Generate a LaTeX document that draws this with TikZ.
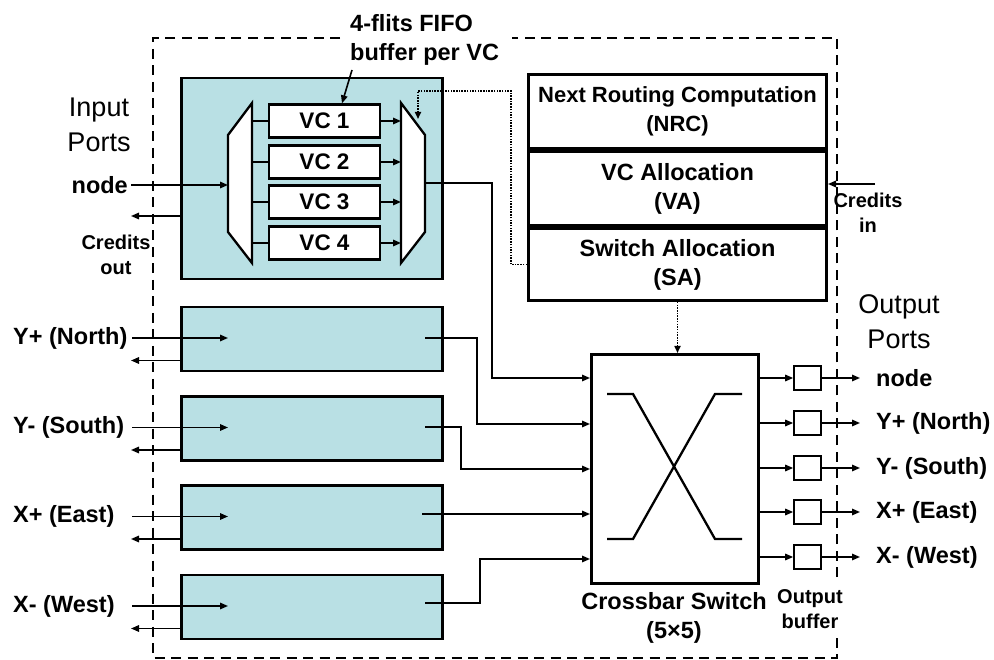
\documentclass[tikz,border=0pt]{standalone}
\usepackage{fontspec}
\setmainfont{Liberation Sans}
\usetikzlibrary{arrows.meta,calc}
\definecolor{portfill}{RGB}{185,224,228}

\begin{document}
\begin{tikzpicture}[x=1pt,y=-1pt,
  frame/.style={line width=2.6pt,dash pattern=on 10pt off 6.5pt},
  port/.style={draw,fill=portfill,line width=2.5pt,anchor=north west,minimum width=261pt,inner sep=0pt},
  vcbox/.style={draw,fill=white,line width=2.3pt,minimum width=111pt,minimum height=33pt,inner sep=0pt,font=\fontsize{22.5}{26}\selectfont\bfseries},
  ctrl/.style={draw,line width=3pt,minimum width=298pt,inner sep=0pt,anchor=north west,align=center,font=\fontsize{23.5}{29}\selectfont\bfseries},
  obuf/.style={draw,fill=white,line width=1.7pt,minimum width=27pt,minimum height=24pt,inner sep=0pt},
  wire/.style={line width=1.6pt},
  arr/.style={wire,-{Triangle[length=8pt,width=6.5pt]}},
  dots/.style={line width=1.6pt,dash pattern=on 1.5pt off 1.2pt,-{Triangle[length=7pt,width=6pt]}},
  lbl/.style={inner sep=0pt,font=\fontsize{23.5}{29}\selectfont\bfseries},
  small/.style={inner sep=0pt,align=center,font=\fontsize{20}{25.5}\selectfont\bfseries},
  big/.style={inner sep=0pt,align=center,font=\fontsize{27}{35}\selectfont}]
\useasboundingbox (0,0) rectangle (994,660);

\draw[frame] (340,38) -- (153,38) -- (153,658) -- (837,658) -- (837,636);
\draw[frame] (837,577) -- (837,38) -- (512,38);

\node[big] (inports) at (99,125) {Input\\Ports};
\node[big] (outports) at (899,322) {Output\\Ports};
\node[lbl,align=left,anchor=west] (fifo) at (350,40) {4-flits FIFO\\buffer per VC};
%%%%%%%%%%%%%%%%%%%%%%%%%%%%%%%% node input port
\node[port,minimum height=201pt] (p0) at (180,77) {};
\coordinate (dmxL) at (228,185);\coordinate (dmxR) at (252,185);
\coordinate (mxL) at (401,183);\coordinate (mxR) at (425,183);
\draw[line width=2.3pt,fill=white] (228,135) -- (252,103) -- (252,263) -- (228,232) -- cycle;
\draw[line width=2.3pt,fill=white] (401,103) -- (425,135) -- (425,232) -- (401,263) -- cycle;
\foreach \i/\y in {1/121,2/162,3/202,4/243}{
  \node[vcbox] (vc\i) at (324.5,\y) {VC \i};
  \draw[wire] (vc\i.west -| dmxR) -- (vc\i.west);
  \draw[arr] (vc\i.east) -- (vc\i.east -| mxL);
}
\coordinate (fifotail) at (352,70);
\draw[arr] (fifotail) -- ($(vc1.north)+(17.5,0)$);

\node[lbl,anchor=east] (innode) at (128,185) {node};
\draw[arr] (innode.east) ++(3,0) -- (dmxL);
\coordinate (cr0) at (131,216);
\draw[arr] (p0.west |- cr0) -- (cr0);
\node[small] (credout) at (116,255) {Credits\\out};
%%%%%%%%%%%%%%%%%%%%%%%%%%%%%%%% other input ports
\foreach \n/\t/\y in {1/{Y+ (North)}/339,2/{Y- (South)}/428.5,3/{X+ (East)}/517.5,4/{X- (West)}/607}{
  \node[port,minimum height=64pt,anchor=west] (p\n) at (180,\y) {};
  \node[lbl,anchor=west] (lin\n) at (13,\y-1) {\t};
  \coordinate (in\n) at (132,\y-1);
  \coordinate (cr\n) at (131,\y+21.5);
  \draw[arr] (in\n) -- (dmxL |- in\n);
  \draw[arr] (p\n.west |- cr\n) -- (cr\n);
}
%%%%%%%%%%%%%%%%%%%%%%%%%%%%%%%% routing logic
\node[ctrl,minimum height=74pt,font=\fontsize{22}{29}\selectfont\bfseries] (nrc) at (527,73) {Next Routing Computation\\(NRC)};
\node[ctrl,minimum height=74pt] (va) at (nrc.south west) {VC Allocation\\(VA)};
\node[ctrl,minimum height=72pt] (sa) at (va.south west) {Switch Allocation\\(SA)};
\coordinate (cin) at (875,184);
\draw[arr] (cin) -- (va.east |- cin);
\node[small] (credin) at (868,213) {Credits\\in};
\coordinate (dotcorner) at (418,91);\coordinate (mxtop) at (418,119);
\draw[dots] (sa.west) -- ++(-16,0) |- (dotcorner) -- (mxtop);
%%%%%%%%%%%%%%%%%%%%%%%%%%%%%%%% crossbar
\node[draw,line width=3pt,minimum width=167pt,minimum height=229pt,anchor=north west,inner sep=0pt] (xbar) at (590,353) {};
\draw[line width=2.3pt] (607,394) -- (633,394) -- (715,539) -- (742,539);
\draw[line width=2.3pt] (607,539) -- (633,539) -- (715,394) -- (742,394);
\node[lbl,align=center] (xbarlbl) at (674,617.5) {Crossbar Switch\\(5×5)};
\draw[dots] (sa.south) -- (sa.south |- xbar.north);
\foreach \k/\y in {0/378,1/424,2/469,3/514,4/559}{\coordinate (xin\k) at (590,\y);}

\draw[arr] (mxR) -- ++(67,0) |- (xin0);
\draw[arr] (mxR |- in1) -- ++(52,0) |- (xin1);
\draw[arr] (mxR |- 0,427) -- ++(36,0) |- (xin2);
\draw[arr] (422,514) -- (xin3);
\draw[arr] (mxR |- 0,603) -- ++(55,0) |- (xin4);
%%%%%%%%%%%%%%%%%%%%%%%%%%%%%%%% output ports
\foreach \k/\t/\y in {0/node/378,1/{Y+ (North)}/423,2/{Y- (South)}/468,3/{X+ (East)}/512,4/{X- (West)}/557}{
  \node[obuf] (ob\k) at (807.5,\y) {};
  \draw[arr] (xbar.east |- ob\k) -- (ob\k.west);
  \node[lbl,anchor=west] (out\k) at (876,\y) {\t};
  \coordinate (oe\k) at (860,\y);
  \draw[arr] (ob\k.east) -- (oe\k);
}
\node[small] (obuflbl) at (810,609) {Output\\buffer};

\end{tikzpicture}
\end{document}
